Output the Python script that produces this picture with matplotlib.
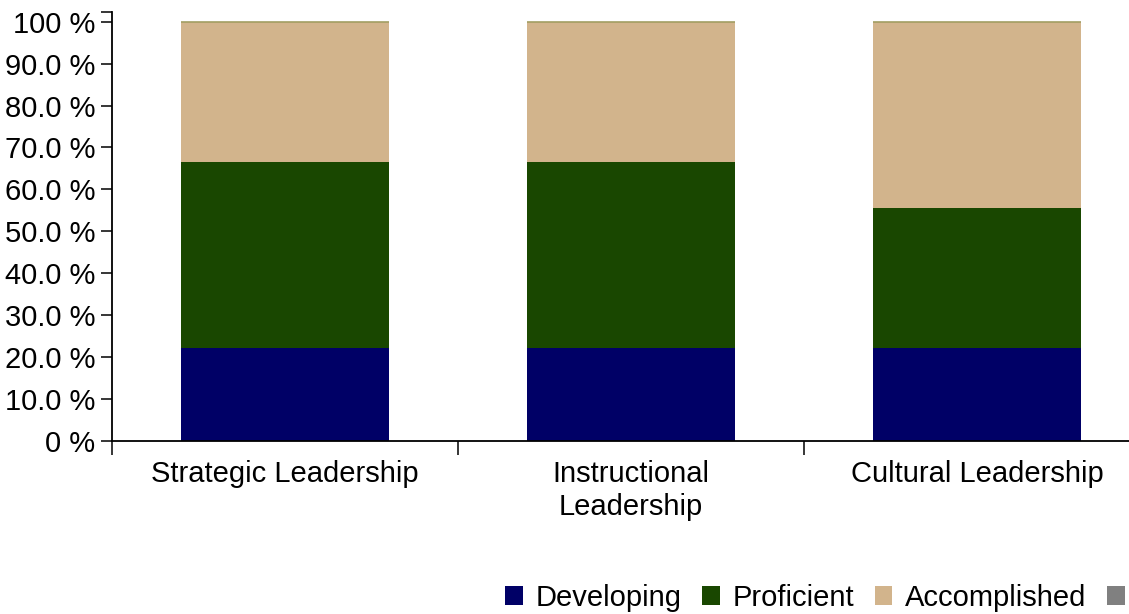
import matplotlib.pyplot as plt
from matplotlib.patches import Patch
import numpy as np

plt.rcParams['font.family'] = ['Liberation Sans', 'DejaVu Sans']

# categories and series (percent of responses)
categories = ["Strategic Leadership", "Instructional\nLeadership", "Cultural Leadership"]
developing = [22.2, 22.2, 22.2]
proficient = [44.4, 44.4, 33.3]
accomplished = [33.4, 33.4, 44.5]
distinguished = [0.0, 0.0, 0.0]

# last legend label falls outside the picture in the reference
series_names = ["Developing", "Proficient", "Accomplished", ""]
series_colors = ["#000066", "#194700", "#d2b48c", "#808080"]

yticks = [0, 10, 20, 30, 40, 50, 60, 70, 80, 90, 100]
ytick_labels = ["0 %", "10.0 %", "20.0 %", "30.0 %", "40.0 %", "50.0 %",
                "60.0 %", "70.0 %", "80.0 %", "90.0 %", "100 %"]

FS = 21

fig = plt.figure(figsize=(11.29, 6.14), dpi=100)
ax = fig.add_axes([112 / 1129, 1 - 441 / 614, 1038 / 1129, 429 / 614])

x = np.arange(len(categories)) + 0.5
w = 0.6
bottom = np.zeros(len(categories))
for vals, col in zip([developing, proficient, accomplished], series_colors[:3]):
    ax.bar(x, vals, w, bottom=bottom, color=col, linewidth=0)
    bottom += np.array(vals)
# zero-height top series shows only as a thin line
ax.bar(x, distinguished, w, bottom=bottom, color=series_colors[3],
       edgecolor="#a29e62", linewidth=1.2)

ax.set_xlim(0, 3)
ax.set_ylim(0, 102.3)

ax.set_yticks(yticks)
ax.set_yticklabels(ytick_labels, fontsize=FS)
ax.set_yticks([102.3], minor=True)
ax.tick_params(axis='y', which='both', length=8, width=1.1, direction='out', pad=4)

ax.set_xticks([0, 1, 2, 3])
ax.set_xticklabels([])
ax.set_xticks(x, minor=True)
ax.set_xticklabels(categories, minor=True, fontsize=FS, linespacing=1.2)
ax.tick_params(axis='x', which='major', length=10, width=1.1, direction='out')
ax.tick_params(axis='x', which='minor', length=0, pad=14)

for s in ['top', 'right']:
    ax.spines[s].set_visible(False)
for s in ['left', 'bottom']:
    ax.spines[s].set_linewidth(1.3)

handles = [Patch(facecolor=c, edgecolor='none') for c in series_colors]
fig.legend(handles, series_names, loc='center left',
           bbox_to_anchor=(505 / 1129, 1 - 598 / 614), ncol=4, frameon=False,
           fontsize=FS, handlelength=0.6, handleheight=0.6,
           handletextpad=0.45, columnspacing=0.7, borderpad=0, borderaxespad=0)

fig.savefig("out.png", dpi=100)
